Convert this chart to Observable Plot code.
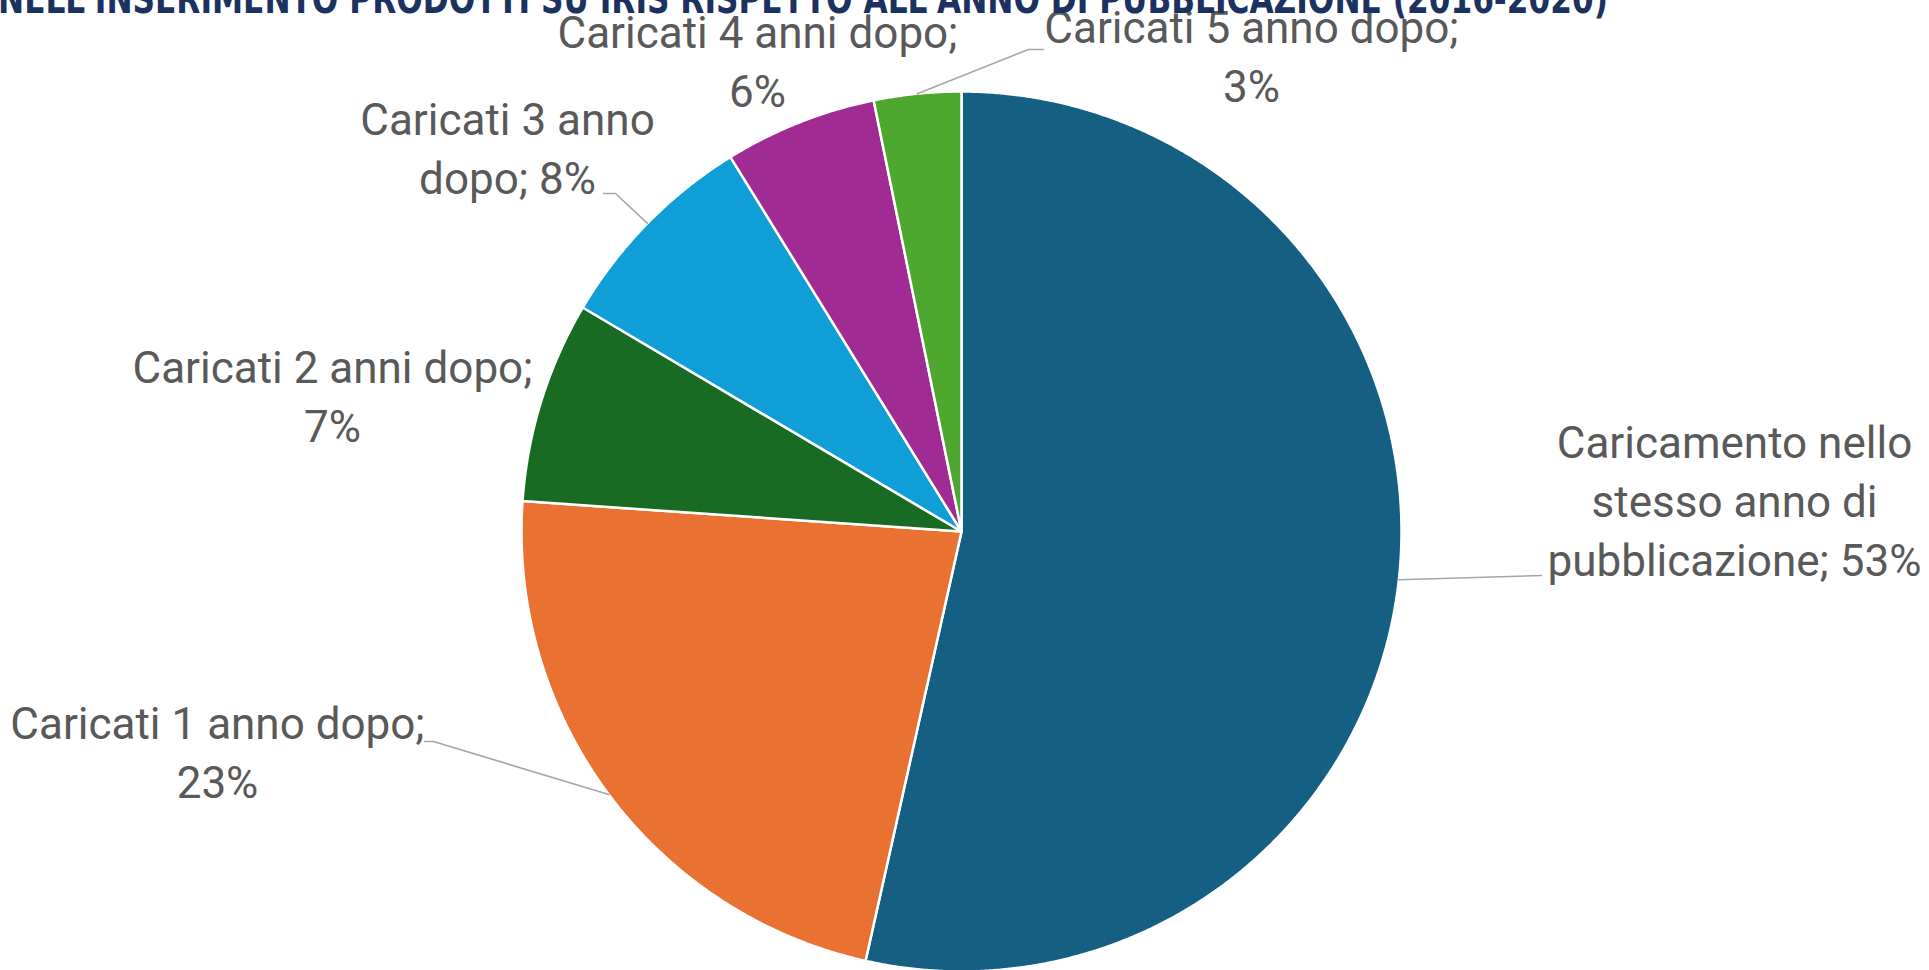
<!DOCTYPE html>
<html>
<head>
<meta charset="utf-8">
<script src="https://cdn.jsdelivr.net/npm/d3@7"></script>
<script src="https://cdn.jsdelivr.net/npm/@observablehq/plot@0.6"></script>
<style>
  html, body { margin: 0; padding: 0; background: #ffffff; overflow: hidden; }
  #wrap { position: relative; width: 1929px; height: 970px; }
  #title { position: absolute; left: 0; top: 0; width: 1929px; height: 22px; overflow: hidden; z-index: 2; }
  #chart { position: absolute; left: 0; top: 0; }
</style>
</head>
<body>
<div id="wrap">
  <div id="title">
    <svg width="1929" height="22" xmlns="http://www.w3.org/2000/svg">
      <text id="titleText" x="-2" y="13" fill="#1b3261" font-weight="700" font-size="40"
        font-family="'Liberation Sans Narrow', 'DejaVu Sans Condensed', Roboto, sans-serif"
        textLength="1610" lengthAdjust="spacingAndGlyphs">NELL'INSERIMENTO PRODOTTI SU IRIS RISPETTO ALL'ANNO DI PUBBLICAZIONE (2016-2020)</text>
    </svg>
  </div>
  <div id="chart"></div>
</div>
<script>
// ---- data ----
const categories = [
  "Caricamento nello stesso anno di pubblicazione",
  "Caricati 1 anno dopo",
  "Caricati 2 anni dopo",
  "Caricati 3 anno dopo",
  "Caricati 4 anni dopo",
  "Caricati 5 anno dopo"
];
const values = [53.5, 22.6, 7.4, 7.7, 5.6, 3.2];
const labelTexts = [
  "Caricamento nello\nstesso anno di\npubblicazione; 53%",
  "Caricati 1 anno dopo;\n23%",
  "Caricati 2 anni dopo;\n7%",
  "Caricati 3 anno\ndopo; 8%",
  "Caricati 4 anni dopo;\n6%",
  "Caricati 5 anno dopo;\n3%"
];
const colors = ["#156082", "#E97132", "#196B24", "#0F9ED5", "#A02B93", "#4EA72E"];

// ---- layout (pixels) ----
const W = 1929, H = 970;
const CX = 961, CY = 531, R = 440;
// label anchor: [centre x, baseline of last line]
const labelPos = [[1734, 575], [217, 797], [332, 441], [507, 193], [757, 106], [1251, 101]];
// leader line points on the label side (null = no leader)
const leaderPts = [
  [[1541, 575]],
  [[424, 741], [433, 741]],
  null,
  [[603, 193], [615, 193]],
  null,
  [[1043, 49], [1028, 49]]
];

// ---- build geometry from values ----
const arcs = d3.pie().sort(null).value(d => d)(values);
const pt = (a, r) => [CX + r * Math.sin(a), CY - r * Math.cos(a)];

const slicePoints = [];
arcs.forEach((a, i) => {
  const n = Math.max(8, Math.ceil((a.endAngle - a.startAngle) / 0.005));
  slicePoints.push({cat: categories[i], x: CX, y: CY});
  for (let k = 0; k <= n; k++) {
    const t = a.startAngle + (a.endAngle - a.startAngle) * k / n;
    const [x, y] = pt(t, R);
    slicePoints.push({cat: categories[i], x, y});
  }
  slicePoints.push({cat: categories[i], x: CX, y: CY});
});

const leaderData = [];
arcs.forEach((a, i) => {
  if (!leaderPts[i]) return;
  leaderPts[i].forEach(([x, y]) => leaderData.push({id: i, x, y}));
  const [x, y] = pt((a.startAngle + a.endAngle) / 2, R);
  leaderData.push({id: i, x, y});
});

const labelData = labelTexts.map((t, i) => ({text: t, x: labelPos[i][0], y: labelPos[i][1]}));

const chart = Plot.plot({
  width: W,
  height: H,
  margin: 0,
  x: {domain: [0, W], range: [0, W], axis: null},
  y: {domain: [0, H], range: [0, H], axis: null},
  color: {domain: categories, range: colors},
  style: {background: "#ffffff", fontFamily: "Roboto, sans-serif"},
  marks: [
    Plot.line(slicePoints, {x: "x", y: "y", z: "cat", fill: "cat", stroke: "#ffffff", strokeWidth: 2.5, strokeLinejoin: "round", curve: "linear"}),
    Plot.line(leaderData, {x: "x", y: "y", z: "id", stroke: "#a6a6a6", strokeWidth: 1.6}),
    Plot.text(labelData, {x: "x", y: "y", text: "text", fontSize: 44, lineHeight: 1.33, lineAnchor: "bottom", textAnchor: "middle", fill: "#595959", fontFamily: "Roboto"})
  ]
});
document.getElementById("chart").appendChild(chart);
</script>
</body>
</html>
